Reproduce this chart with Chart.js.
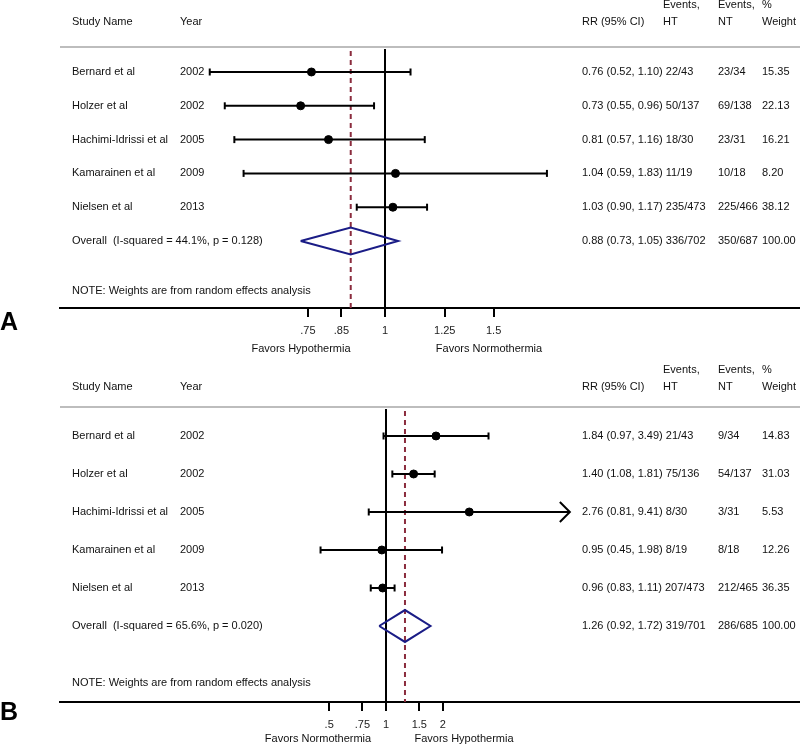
<!DOCTYPE html>
<html>
<head>
<meta charset="utf-8">
<script src="https://cdn.jsdelivr.net/npm/chart.js@4.4.1/dist/chart.umd.min.js"></script>
<style>
  body { margin: 0; background: #fff; }
  canvas { display: block; }
</style>
</head>
<body>
<canvas id="panelA" width="800" height="362"></canvas>
<canvas id="panelB" width="800" height="383"></canvas>
<script>
// study rows (same in both panels)
var studies = ['Bernard et al', 'Holzer et al', 'Hachimi-Idrissi et al', 'Kamarainen et al', 'Nielsen et al'];
var years = ['2002', '2002', '2005', '2009', '2013'];

// panel A
var rrA = [0.76, 0.73, 0.81, 1.04, 1.03];
var loA = [0.52, 0.55, 0.57, 0.59, 0.90];
var hiA = [1.10, 0.96, 1.16, 1.83, 1.17];
var htA = ['22/43', '50/137', '18/30', '11/19', '235/473'];
var ntA = ['23/34', '69/138', '23/31', '10/18', '225/466'];
var weightA = ['15.35', '22.13', '16.21', '8.20', '38.12'];
var overallA = [0.88, 0.73, 1.05];
var overallTextA = ['Overall  (I-squared = 44.1%, p = 0.128)', '336/702', '350/687', '100.00'];
var ticksA = [0.75, 0.85, 1, 1.25, 1.5];
var tickLabelsA = ['.75', '.85', '1', '1.25', '1.5'];
var favorsA = ['Favors Hypothermia', 'Favors Normothermia'];

// panel B
var rrB = [1.84, 1.40, 2.76, 0.95, 0.96];
var loB = [0.97, 1.08, 0.81, 0.45, 0.83];
var hiB = [3.49, 1.81, 9.41, 1.98, 1.11];
var htB = ['21/43', '75/136', '8/30', '8/19', '207/473'];
var ntB = ['9/34', '54/137', '3/31', '8/18', '212/465'];
var weightB = ['14.83', '31.03', '5.53', '12.26', '36.35'];
var overallB = [1.26, 0.92, 1.72];
var overallTextB = ['Overall  (I-squared = 65.6%, p = 0.020)', '319/701', '286/685', '100.00'];
var ticksB = [0.5, 0.75, 1, 1.5, 2];
var tickLabelsB = ['.5', '.75', '1', '1.5', '2'];
var favorsB = ['Favors Normothermia', 'Favors Hypothermia'];
var arrowB = [false, false, true, false, false];

var FONT = "'Liberation Sans', Arial, sans-serif";
Chart.defaults.font.family = FONT;
Chart.defaults.font.size = 11;
Chart.defaults.color = '#111';

var NAVY = '#1a1c86';
var MAROON = '#8b2c3e';

function fmt(v) { return v.toFixed(2); }

function makePanel(id, p) {
    var datasets = [];

    // CI lines with end caps
    studies.forEach(function (s, i) {
        var arrow = p.arrow && p.arrow[i];
        datasets.push({
            data: [{x: p.lo[i], y: i}, {x: p.hi[i], y: i}],
            showLine: true,
            borderColor: '#000',
            borderWidth: 2,
            pointStyle: 'line',
            pointRotation: 90,
            pointRadius: [3.5, arrow ? 0 : 3.5],
            pointBorderWidth: 2,
            pointBorderColor: '#000'
        });
    });

    // point estimates
    datasets.push({
        data: p.rr.map(function (v, i) { return {x: v, y: i}; }),
        pointStyle: 'circle',
        pointRadius: 4,
        pointBackgroundColor: '#000',
        pointBorderColor: '#000',
        pointBorderWidth: 1
    });

    // overall diamond
    var r = studies.length, h = p.diamondH;
    datasets.push({
        data: [
            {x: p.overall[1], y: r}, {x: p.overall[0], y: r - h},
            {x: p.overall[2], y: r}, {x: p.overall[0], y: r + h},
            {x: p.overall[1], y: r}
        ],
        showLine: true,
        borderColor: NAVY,
        borderWidth: 2,
        pointRadius: 0,
        tension: 0
    });

    var forest = {
        id: 'forest',
        beforeDatasetsDraw: function (chart) {
            var ctx = chart.ctx, x = chart.scales.x, y = chart.scales.y;
            var area = chart.chartArea;
            ctx.save();
            // header rule
            ctx.strokeStyle = '#bdbdbd';
            ctx.lineWidth = 2;
            ctx.beginPath();
            ctx.moveTo(area.left, p.ruleY);
            ctx.lineTo(area.right, p.ruleY);
            ctx.stroke();
            // line of no effect
            var x1 = Math.round(x.getPixelForValue(1));
            ctx.strokeStyle = '#000';
            ctx.lineWidth = 2;
            ctx.beginPath();
            ctx.moveTo(x1, p.ruleY + 2);
            ctx.lineTo(x1, area.bottom);
            ctx.stroke();
            // overall estimate
            var xo = x.getPixelForValue(p.overall[0]);
            ctx.strokeStyle = MAROON;
            ctx.lineWidth = 2;
            ctx.setLineDash([5, 4]);
            ctx.beginPath();
            ctx.moveTo(xo, p.ruleY + 4);
            ctx.lineTo(xo, area.bottom);
            ctx.stroke();
            ctx.restore();
        },
        afterDraw: function (chart) {
            var ctx = chart.ctx, x = chart.scales.x, y = chart.scales.y;
            ctx.save();
            ctx.fillStyle = '#111';
            ctx.font = '11px ' + FONT;
            ctx.textBaseline = 'middle';
            ctx.textAlign = 'left';

            // header
            ctx.fillText('Study Name', 72, p.headY);
            ctx.fillText('Year', 180, p.headY);
            ctx.fillText('RR (95% CI)', 582, p.headY);
            ctx.fillText('Events,', 663, p.head2Y);
            ctx.fillText('HT', 663, p.headY);
            ctx.fillText('Events,', 718, p.head2Y);
            ctx.fillText('NT', 718, p.headY);
            ctx.fillText('%', 762, p.head2Y);
            ctx.fillText('Weight', 762, p.headY);

            // rows
            studies.forEach(function (s, i) {
                var yy = y.getPixelForValue(i);
                ctx.fillText(s, 72, yy);
                ctx.fillText(years[i], 180, yy);
                ctx.fillText(fmt(p.rr[i]) + ' (' + fmt(p.lo[i]) + ', ' + fmt(p.hi[i]) + ') ' + p.ht[i], 582, yy);
                ctx.fillText(p.nt[i], 718, yy);
                ctx.fillText(p.weight[i], 762, yy);
            });
            var yo = y.getPixelForValue(studies.length);
            ctx.fillText(p.overallText[0], 72, yo);
            ctx.fillText(fmt(p.overall[0]) + ' (' + fmt(p.overall[1]) + ', ' + fmt(p.overall[2]) + ') ' + p.overallText[1], 582, yo);
            ctx.fillText(p.overallText[2], 718, yo);
            ctx.fillText(p.overallText[3], 762, yo);

            ctx.fillText('NOTE: Weights are from random effects analysis', 72, y.getPixelForValue(studies.length + p.noteGap));

            // favors labels
            ctx.textAlign = 'center';
            ctx.fillText(p.favors[0], p.favorsX[0], p.favorsY);
            ctx.fillText(p.favors[1], p.favorsX[1], p.favorsY);

            // panel letter
            ctx.font = 'bold 25px ' + FONT;
            ctx.fillStyle = '#000';
            ctx.fillText(p.letter, 9, p.letterY);

            // arrows for truncated CIs
            if (p.arrow) {
                ctx.strokeStyle = '#000';
                ctx.lineWidth = 2;
                p.arrow.forEach(function (a, i) {
                    if (!a) return;
                    var tx = x.getPixelForValue(p.hi[i]), ty = y.getPixelForValue(i);
                    ctx.beginPath();
                    ctx.moveTo(tx - 10, ty - 10);
                    ctx.lineTo(tx, ty);
                    ctx.lineTo(tx - 10, ty + 10);
                    ctx.stroke();
                });
            }
            ctx.restore();
        }
    };

    return new Chart(document.getElementById(id), {
        type: 'scatter',
        data: {datasets: datasets},
        options: {
            responsive: false,
            animation: false,
            layout: {autoPadding: false, padding: {left: 60, right: 0, top: 0, bottom: 0}},
            plugins: {legend: {display: false}, tooltip: {enabled: false}},
            scales: {
                x: {
                    type: 'logarithmic',
                    min: p.xMin,
                    max: p.xMax,
                    afterBuildTicks: function (scale) {
                        scale.ticks = p.ticks.map(function (v) { return {value: v}; });
                    },
                    afterFit: function (scale) { scale.height = p.axisH; },
                    ticks: {
                        autoSkip: false,
                        maxRotation: 0,
                        padding: 7,
                        color: '#222',
                        font: {size: 11},
                        callback: function (v) {
                            var k = p.ticks.indexOf(v);
                            return k >= 0 ? p.tickLabels[k] : '';
                        }
                    },
                    grid: {drawOnChartArea: false, drawTicks: true, tickLength: 9, color: '#000', lineWidth: 2},
                    border: {display: true, color: '#000', width: 2}
                },
                y: {
                    type: 'linear',
                    display: false,
                    reverse: true,
                    min: p.yMin,
                    max: p.yMax
                }
            }
        },
        plugins: [forest]
    });
}

makePanel('panelA', {
    rr: rrA, lo: loA, hi: hiA, ht: htA, nt: ntA, weight: weightA,
    overall: overallA, overallText: overallTextA,
    ticks: ticksA, tickLabels: tickLabelsA, favors: favorsA,
    xMin: 0.2974, xMax: 4.705, yMin: -2.13, yMax: 6.982,
    axisH: 54, diamondH: 0.4, noteGap: 1.48,
    ruleY: 47, headY: 22, head2Y: 5,
    favorsX: [301, 489], favorsY: 349,
    letter: 'A', letterY: 323
});

makePanel('panelB', {
    rr: rrB, lo: loB, hi: hiB, ht: htB, nt: ntB, weight: weightB,
    overall: overallB, overallText: overallTextB,
    ticks: ticksB, tickLabels: tickLabelsB, favors: favorsB, arrow: arrowB,
    xMin: 0.01876, xMax: 155.8, yMin: -1.947, yMax: 7.0,
    axisH: 43, diamondH: 0.42, noteGap: 1.5,
    ruleY: 45, headY: 25, head2Y: 8,
    favorsX: [318, 464], favorsY: 377,
    letter: 'B', letterY: 351
});
</script>
</body>
</html>
